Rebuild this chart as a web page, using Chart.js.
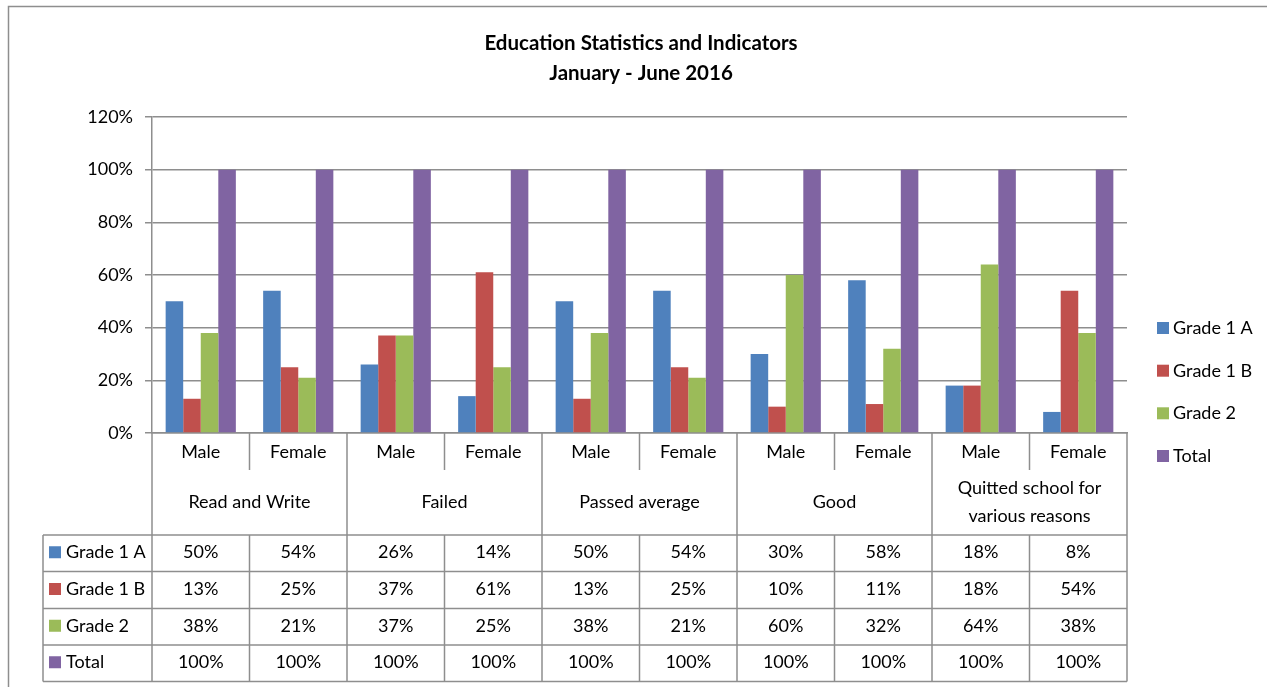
<!DOCTYPE html>
<html><head><meta charset="utf-8">
<script src="https://cdn.jsdelivr.net/npm/chart.js@4"></script>
<style>html,body{margin:0;padding:0;background:#fff;overflow:hidden}</style>
</head><body>
<canvas id="c" width="1267" height="687"></canvas>
<script>
const titleLines = ["Education Statistics and Indicators", "January - June 2016"];
const groups = [["Read and Write"], ["Failed"], ["Passed average"], ["Good"], ["Quitted school for", "various reasons"]];
const genders = ["Male", "Female"];
const categories = ["Male","Female","Male","Female","Male","Female","Male","Female","Male","Female"];
const seriesNames = ["Grade 1 A", "Grade 1 B", "Grade 2", "Total"];
const seriesColors = ["#4F81BD", "#C0504D", "#9BBB59", "#8064A2"];
const grade1A = [50, 54, 26, 14, 50, 54, 30, 58, 18, 8];
const grade1B = [13, 25, 37, 61, 13, 25, 10, 11, 18, 54];
const grade2  = [38, 21, 37, 25, 38, 21, 60, 32, 64, 38];
const total   = [100, 100, 100, 100, 100, 100, 100, 100, 100, 100];
const yTicks = [0, 20, 40, 60, 80, 100, 120];

const FONT = "Lato, 'Liberation Sans', sans-serif";
const LINE = "#8e8e8e";
const TXT = 18;

const tablePlugin = {
  id: 'tableAndLegend',
  afterDraw(chart) {
    const { ctx, chartArea: a, scales: { x } } = chart;
    const n = categories.length;
    const w = (a.right - a.left) / n;
    const edge = i => a.left + i * w;
    const yH2 = 470;
    const yD = [535, 571.5, 608.5, 645, 681.5];
    const line = (x1, y1, x2, y2) => { ctx.beginPath(); ctx.moveTo(x1, y1); ctx.lineTo(x2, y2); ctx.stroke(); };
    ctx.save();
    // outer frame
    ctx.strokeStyle = LINE; ctx.lineWidth = 1.5;
    ctx.strokeRect(8.5, 6.5, 1300, 700);
    // table grid
    for (let i = 0; i <= n; i++) {
      const xx = edge(i);
      if (i % 2 === 0) line(xx, a.bottom, xx, yD[4]);
      else { line(xx, a.bottom, xx, yH2); line(xx, yD[0], xx, yD[4]); }
    }
    line(43, yD[0], 43, yD[4]);
    yD.forEach(y => line(43, y, a.right, y));
    // header texts
    ctx.fillStyle = '#000';
    ctx.font = TXT + 'px ' + FONT;
    ctx.textAlign = 'center'; ctx.textBaseline = 'middle';
    categories.forEach((c, i) => ctx.fillText(c, x.getPixelForValue(i), 452));
    groups.forEach((g, j) => {
      const cx = edge(2 * j + 1);
      g.forEach((t, k) => ctx.fillText(t, cx, 502 + (k - (g.length - 1) / 2) * 28));
    });
    // data rows
    chart.data.datasets.forEach((ds, r) => {
      const cy = (yD[r] + yD[r + 1]) / 2 - 1;
      ctx.textAlign = 'center';
      ds.data.forEach((v, i) => ctx.fillText(v + '%', x.getPixelForValue(i), cy));
      ctx.fillStyle = ds.backgroundColor;
      ctx.fillRect(49, cy - 6, 12, 12);
      ctx.fillStyle = '#000';
      ctx.textAlign = 'left';
      ctx.fillText(ds.label, 66, cy);
    });
    // right legend
    const ly = [328, 370.7, 413.3, 456];
    chart.data.datasets.forEach((ds, r) => {
      ctx.fillStyle = ds.backgroundColor;
      ctx.fillRect(1157, ly[r] - 6, 12, 12);
      ctx.fillStyle = '#000';
      ctx.textAlign = 'left';
      ctx.fillText(ds.label, 1173, ly[r]);
    });
    ctx.restore();
  }
};

const seriesData = [grade1A, grade1B, grade2, total];
new Chart(document.getElementById('c'), {
  type: 'bar',
  data: {
    labels: categories,
    datasets: seriesNames.map((name, i) => ({
      label: name,
      data: seriesData[i],
      backgroundColor: seriesColors[i],
      borderWidth: 0,
      categoryPercentage: 0.72,
      barPercentage: 1.0
    }))
  },
  options: {
    responsive: false,
    animation: false,
    devicePixelRatio: 1,
    layout: { padding: { left: 15, right: 0, top: 0, bottom: 254 } },
    plugins: {
      legend: { display: false },
      tooltip: { enabled: false },
      title: {
        display: true,
        text: titleLines,
        color: '#000',
        font: { family: FONT, size: 20.5, weight: 'bold', lineHeight: 30 / 20.5 },
        padding: { top: 28, bottom: 29 }
      }
    },
    scales: {
      x: {
        ticks: { display: false },
        grid: { display: false },
        border: { display: true, color: LINE, width: 1.5 },
        afterFit: s => { s.height = 0; }
      },
      y: {
        min: 0, max: 120,
        afterBuildTicks: s => { s.ticks = yTicks.map(v => ({ value: v })); },
        ticks: { callback: v => v + '%', color: '#000', font: { family: FONT, size: TXT }, padding: 12 },
        grid: { color: LINE, lineWidth: 1.5, tickLength: 7, drawTicks: true },
        border: { display: true, color: LINE, width: 1.5 },
        afterFit: s => { s.width = 137; }
      },
      spacer: {
        position: 'right',
        axis: 'y',
        display: true,
        ticks: { display: false },
        grid: { display: false, drawOnChartArea: false },
        border: { display: false },
        afterFit: s => { s.width = 140; }
      }
    }
  },
  plugins: [tablePlugin]
});
</script>
</body></html>
